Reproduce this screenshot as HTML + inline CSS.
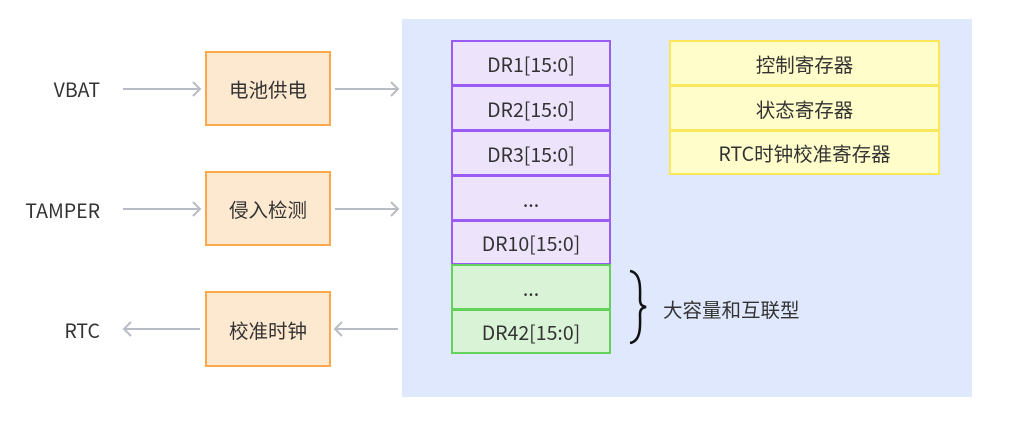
<!DOCTYPE html>
<html><head><meta charset="utf-8"><style>
body{margin:0;width:1028px;height:427px;background:#fff;position:relative;font-family:"Noto Sans CJK SC","Liberation Sans",sans-serif;color:#333;overflow:hidden}
.a{position:absolute;box-sizing:border-box;display:flex;align-items:center;justify-content:center;font-size:19.5px}
.o{background:#fde8d0;border:2px solid #fba84a}
.p{background:#ede3fb;border:2px solid #9b5cf6}
.g{background:#d9f3d7;border:2px solid #63d15a}
.y{background:#fffecb;border:2px solid #fbe85a}
.t{position:absolute;font-size:19.5px;height:30px;line-height:30px}
</style></head><body>
<div style="position:absolute;left:402px;top:19px;width:570px;height:378px;background:#e0e8fd"></div>
<div class="t" style="right:928px;top:74px">VBAT</div>
<div class="t" style="right:928px;top:195px">TAMPER</div>
<div class="t" style="right:928px;top:315px">RTC</div>
<div class="a o" style="left:205px;top:51px;width:126px;height:75px">电池供电</div>
<div class="a o" style="left:205px;top:171px;width:126px;height:75px">侵入检测</div>
<div class="a o" style="left:205px;top:291px;width:126px;height:76px">校准时钟</div>
<svg style="position:absolute;left:0;top:0" width="1028" height="427" fill="none" stroke="#b8bcc4" stroke-width="2">
<path d="M123 89H200M193 82l7 7-7 7"/>
<path d="M335 89H398M391 82l7 7-7 7"/>
<path d="M123 209H200M193 202l7 7-7 7"/>
<path d="M335 209H398M391 202l7 7-7 7"/>
<path d="M124 329H200M131 322l-7 7 7 7"/>
<path d="M335 329H398M342 322l-7 7 7 7"/>
<path d="M630 271c12 2 10 20 10 28c0 6 2 7 6 8c-4 1-6 2-6 8c0 8 2 26-10 28" stroke="#111" stroke-width="2.5"/>
</svg>
<div class="a p" style="left:451px;top:40px;width:160px;height:46px">DR1[15:0]</div>
<div class="a p" style="left:451px;top:85px;width:160px;height:46px">DR2[15:0]</div>
<div class="a p" style="left:451px;top:130px;width:160px;height:46px">DR3[15:0]</div>
<div class="a p" style="left:451px;top:175px;width:160px;height:46px">...</div>
<div class="a p" style="left:451px;top:220px;width:160px;height:45px">DR10[15:0]</div>
<div class="a g" style="left:451px;top:264px;width:160px;height:46px">...</div>
<div class="a g" style="left:451px;top:309px;width:160px;height:45px">DR42[15:0]</div>
<div class="a y" style="left:669px;top:40px;width:271px;height:46px">控制寄存器</div>
<div class="a y" style="left:669px;top:85px;width:271px;height:46px">状态寄存器</div>
<div class="a y" style="left:669px;top:130px;width:271px;height:45px">RTC时钟校准寄存器</div>
<div class="t" style="left:663px;top:294px">大容量和互联型</div>
</body></html>
